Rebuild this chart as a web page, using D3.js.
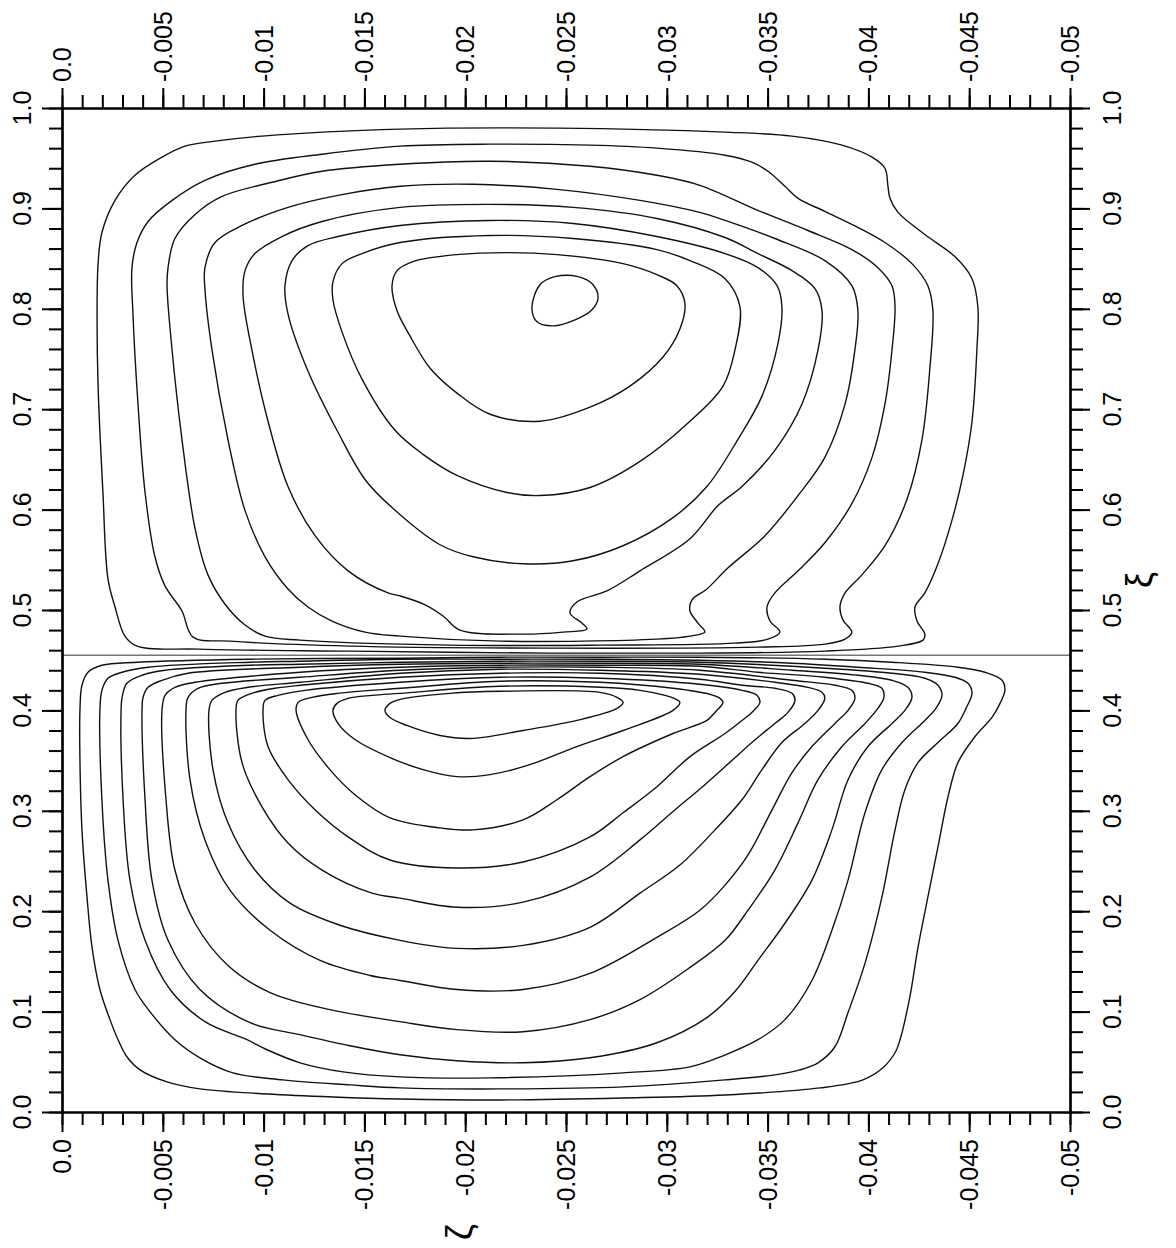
<!DOCTYPE html>
<html lang="en">
<head>
<meta charset="utf-8">
<title>Streamlines</title>
<script src="https://cdn.jsdelivr.net/npm/d3@7"></script>
<style>
  body { margin: 0; background: #fff; }
  svg { display: block; }
  text { font-family: "Liberation Sans", Arial, sans-serif; fill: #000; }
</style>
</head>
<body>
<svg id="chart" width="1176" height="1248"></svg>
<script>
// tick labels
const zetaMajor = [0, -0.005, -0.01, -0.015, -0.02, -0.025, -0.03, -0.035, -0.04, -0.045, -0.05];
const zetaLabels = ["0.0", "-0.005", "-0.01", "-0.015", "-0.02", "-0.025", "-0.03", "-0.035", "-0.04", "-0.045", "-0.05"];
const xiMajor = [0, 0.1, 0.2, 0.3, 0.4, 0.5, 0.6, 0.7, 0.8, 0.9, 1.0];
const xiLabels = ["0.0", "0.1", "0.2", "0.3", "0.4", "0.5", "0.6", "0.7", "0.8", "0.9", "1.0"];

// dividing line between the two cells
const dividerXi = 0.455;

// upper cell contours, [zeta, xi], outermost first
const upper1 = [[-3.72e-3,0.464],[-3.12e-3,0.474],[-2.63e-3,0.503],[-2.28e-3,0.531],[-2.03e-3,0.617],[-1.79e-3,0.723],[-1.74e-3,0.795],[-1.79e-3,0.845],[-1.98e-3,0.876],[-2.63e-3,0.908],[-3.62e-3,0.933],[-4.96e-3,0.951],[-6.10e-3,0.962],[-7.59e-3,0.967],[-9.92e-3,0.972],[-16.77e-3,0.979],[-24.55e-3,0.980],[-32.89e-3,0.976],[-36.21e-3,0.972],[-38.69e-3,0.963],[-40.18e-3,0.951],[-40.82e-3,0.940],[-40.97e-3,0.922],[-41.07e-3,0.910],[-41.47e-3,0.896],[-42.80e-3,0.874],[-44.29e-3,0.852],[-45.14e-3,0.830],[-45.43e-3,0.802],[-45.38e-3,0.759],[-45.14e-3,0.688],[-44.69e-3,0.634],[-44.14e-3,0.589],[-43.45e-3,0.546],[-42.80e-3,0.517],[-42.31e-3,0.503],[-42.41e-3,0.489],[-42.80e-3,0.476],[-42.71e-3,0.470],[-41.47e-3,0.464],[-37.84e-3,0.459],[-31.64e-3,0.457],[-24.20e-3,0.457],[-14.28e-3,0.459],[-6.84e-3,0.461]];
const upper2 = [[-6.50e-3,0.473],[-5.95e-3,0.499],[-5.11e-3,0.524],[-4.61e-3,0.553],[-4.12e-3,0.617],[-3.77e-3,0.705],[-3.52e-3,0.795],[-3.47e-3,0.841],[-3.72e-3,0.866],[-4.27e-3,0.887],[-5.46e-3,0.908],[-7.09e-3,0.928],[-9.57e-3,0.944],[-12.90e-3,0.954],[-16.77e-3,0.962],[-21.23e-3,0.964],[-26.19e-3,0.963],[-29.51e-3,0.960],[-32.89e-3,0.953],[-34.22e-3,0.946],[-35.02e-3,0.937],[-35.86e-3,0.922],[-36.51e-3,0.910],[-37.84e-3,0.897],[-39.48e-3,0.881],[-40.82e-3,0.866],[-42.16e-3,0.845],[-42.95e-3,0.823],[-43.20e-3,0.798],[-43.05e-3,0.741],[-42.66e-3,0.670],[-41.91e-3,0.610],[-40.82e-3,0.564],[-39.68e-3,0.535],[-38.84e-3,0.517],[-38.59e-3,0.503],[-38.74e-3,0.490],[-39.18e-3,0.478],[-38.84e-3,0.471],[-37.84e-3,0.466],[-34.52e-3,0.463],[-24.20e-3,0.462],[-14.28e-3,0.464],[-8.33e-3,0.469]];
const upper3 = [[-10.07e-3,0.474],[-9.08e-3,0.485],[-8.08e-3,0.506],[-7.24e-3,0.535],[-6.60e-3,0.581],[-5.95e-3,0.670],[-5.46e-3,0.759],[-5.21e-3,0.823],[-5.26e-3,0.841],[-5.60e-3,0.870],[-6.60e-3,0.894],[-7.94e-3,0.912],[-10.42e-3,0.926],[-12.90e-3,0.937],[-16.77e-3,0.944],[-21.23e-3,0.947],[-26.19e-3,0.942],[-29.51e-3,0.933],[-31.64e-3,0.923],[-34.52e-3,0.898],[-37.00e-3,0.878],[-39.18e-3,0.859],[-40.47e-3,0.841],[-41.17e-3,0.823],[-41.32e-3,0.802],[-41.17e-3,0.759],[-40.82e-3,0.705],[-40.18e-3,0.652],[-39.18e-3,0.606],[-37.84e-3,0.567],[-36.51e-3,0.539],[-35.36e-3,0.517],[-34.97e-3,0.503],[-35.12e-3,0.489],[-35.61e-3,0.478],[-35.02e-3,0.471],[-33.38e-3,0.467],[-26.69e-3,0.465],[-19.25e-3,0.465],[-11.81e-3,0.470]];
const upper4 = [[-16.77e-3,0.474],[-15.03e-3,0.478],[-13.39e-3,0.489],[-12.20e-3,0.503],[-11.21e-3,0.521],[-10.07e-3,0.553],[-9.08e-3,0.599],[-8.23e-3,0.670],[-7.44e-3,0.759],[-7.09e-3,0.820],[-7.09e-3,0.841],[-7.59e-3,0.866],[-8.93e-3,0.883],[-11.21e-3,0.901],[-13.69e-3,0.913],[-16.77e-3,0.922],[-20.39e-3,0.924],[-24.55e-3,0.919],[-28.67e-3,0.908],[-31.64e-3,0.896],[-32.89e-3,0.888],[-35.36e-3,0.870],[-37.84e-3,0.848],[-39.18e-3,0.823],[-39.48e-3,0.798],[-39.33e-3,0.759],[-38.84e-3,0.705],[-37.84e-3,0.652],[-36.51e-3,0.614],[-34.87e-3,0.574],[-33.04e-3,0.542],[-31.99e-3,0.521],[-31.25e-3,0.510],[-31.15e-3,0.499],[-31.55e-3,0.487],[-31.89e-3,0.478],[-31.15e-3,0.474],[-29.51e-3,0.471],[-21.73e-3,0.469]];
const upper5 = [[-16.77e-3,0.514],[-16.17e-3,0.517],[-14.19e-3,0.539],[-12.55e-3,0.574],[-11.21e-3,0.623],[-10.22e-3,0.688],[-9.42e-3,0.759],[-8.98e-3,0.813],[-9.08e-3,0.838],[-9.57e-3,0.855],[-10.91e-3,0.872],[-12.90e-3,0.887],[-16.77e-3,0.901],[-21.23e-3,0.904],[-25.35e-3,0.901],[-29.51e-3,0.890],[-32.89e-3,0.871],[-34.52e-3,0.855],[-36.21e-3,0.838],[-37.35e-3,0.820],[-37.70e-3,0.798],[-37.50e-3,0.759],[-36.70e-3,0.705],[-35.36e-3,0.659],[-33.73e-3,0.623],[-32.54e-3,0.604],[-31.15e-3,0.571],[-28.67e-3,0.539],[-27.03e-3,0.519],[-25.54e-3,0.508],[-25.20e-3,0.497],[-25.79e-3,0.487],[-26.04e-3,0.481],[-24.85e-3,0.478],[-22.87e-3,0.476],[-19.74e-3,0.480],[-18.90e-3,0.494],[-17.91e-3,0.506]];
const upper6 = [[-16.37e-3,0.602],[-15.03e-3,0.630],[-13.69e-3,0.677],[-12.20e-3,0.738],[-11.21e-3,0.795],[-11.06e-3,0.823],[-11.41e-3,0.848],[-12.20e-3,0.863],[-13.69e-3,0.872],[-16.77e-3,0.883],[-21.23e-3,0.888],[-25.35e-3,0.885],[-29.51e-3,0.872],[-32.89e-3,0.855],[-34.52e-3,0.841],[-35.47e-3,0.823],[-35.71e-3,0.802],[-35.52e-3,0.766],[-34.72e-3,0.713],[-33.53e-3,0.670],[-31.99e-3,0.623],[-30.31e-3,0.592],[-27.83e-3,0.564],[-25.35e-3,0.549],[-22.87e-3,0.546],[-20.39e-3,0.553],[-18.75e-3,0.565]];
const upper7 = [[-16.52e-3,0.679],[-14.88e-3,0.730],[-13.89e-3,0.777],[-13.44e-3,0.809],[-13.44e-3,0.827],[-13.89e-3,0.845],[-14.88e-3,0.855],[-16.77e-3,0.866],[-21.23e-3,0.873],[-25.35e-3,0.870],[-29.51e-3,0.859],[-31.15e-3,0.848],[-32.89e-3,0.830],[-33.63e-3,0.802],[-33.38e-3,0.759],[-32.79e-3,0.723],[-31.15e-3,0.688],[-28.67e-3,0.648],[-26.19e-3,0.622],[-23.71e-3,0.614],[-22.07e-3,0.617],[-19.59e-3,0.634],[-17.91e-3,0.655]];
const upper8 = [[-16.37e-3,0.823],[-16.62e-3,0.838],[-17.41e-3,0.847],[-19.59e-3,0.854],[-22.07e-3,0.856],[-24.55e-3,0.854],[-27.83e-3,0.845],[-29.51e-3,0.834],[-30.50e-3,0.823],[-30.90e-3,0.805],[-30.65e-3,0.780],[-29.81e-3,0.752],[-28.17e-3,0.723],[-26.19e-3,0.702],[-23.71e-3,0.688],[-21.23e-3,0.695],[-19.59e-3,0.716],[-18.25e-3,0.741],[-17.26e-3,0.773],[-16.62e-3,0.798]];
const upper9 = [[-23.71e-3,0.824],[-24.45e-3,0.832],[-25.60e-3,0.832],[-26.34e-3,0.824],[-26.59e-3,0.811],[-26.29e-3,0.799],[-25.45e-3,0.789],[-24.36e-3,0.783],[-23.56e-3,0.787],[-23.31e-3,0.801]];

// lower cell contours, [zeta, xi], outermost first
const lower1 = [[-0.89e-3,0.351],[-0.89e-3,0.400],[-0.99e-3,0.425],[-1.29e-3,0.438],[-1.98e-3,0.445],[-3.77e-3,0.448],[-9.33e-3,0.451],[-16.77e-3,0.452],[-21.73e-3,0.453],[-26.69e-3,0.453],[-31.64e-3,0.453],[-37.84e-3,0.451],[-41.17e-3,0.448],[-44.44e-3,0.443],[-45.78e-3,0.438],[-46.63e-3,0.430],[-46.77e-3,0.420],[-46.53e-3,0.407],[-46.13e-3,0.393],[-45.29e-3,0.374],[-44.44e-3,0.348],[-43.95e-3,0.314],[-43.45e-3,0.264],[-42.95e-3,0.214],[-42.46e-3,0.164],[-42.06e-3,0.115],[-41.57e-3,0.072],[-41.32e-3,0.059],[-40.72e-3,0.044],[-39.73e-3,0.032],[-37.60e-3,0.024],[-32.89e-3,0.017],[-27.83e-3,0.014],[-21.73e-3,0.012],[-16.77e-3,0.013],[-13.44e-3,0.015],[-10.17e-3,0.018],[-6.84e-3,0.023],[-5.21e-3,0.030],[-3.87e-3,0.042],[-3.22e-3,0.055],[-2.78e-3,0.072],[-2.38e-3,0.092],[-1.88e-3,0.122],[-1.49e-3,0.164],[-1.24e-3,0.214],[-0.99e-3,0.281]];
const lower2 = [[-1.88e-3,0.400],[-1.98e-3,0.420],[-2.28e-3,0.432],[-2.98e-3,0.438],[-4.27e-3,0.443],[-9.33e-3,0.448],[-11.81e-3,0.449],[-16.77e-3,0.451],[-21.73e-3,0.451],[-26.69e-3,0.451],[-31.64e-3,0.450],[-36.21e-3,0.447],[-39.48e-3,0.443],[-42.80e-3,0.438],[-44.29e-3,0.433],[-44.94e-3,0.427],[-45.14e-3,0.417],[-44.84e-3,0.402],[-44.44e-3,0.387],[-43.45e-3,0.368],[-42.46e-3,0.348],[-41.81e-3,0.321],[-41.32e-3,0.281],[-40.67e-3,0.214],[-39.83e-3,0.148],[-38.99e-3,0.099],[-38.34e-3,0.065],[-37.50e-3,0.049],[-36.61e-3,0.042],[-35.36e-3,0.037],[-32.89e-3,0.032],[-27.83e-3,0.025],[-21.73e-3,0.023],[-16.77e-3,0.024],[-14.28e-3,0.027],[-10.96e-3,0.032],[-8.48e-3,0.039],[-6.84e-3,0.054],[-5.60e-3,0.072],[-4.36e-3,0.100],[-3.62e-3,0.122],[-2.78e-3,0.171],[-2.28e-3,0.231],[-1.98e-3,0.311]];
const lower3 = [[-2.93e-3,0.400],[-2.98e-3,0.413],[-3.22e-3,0.427],[-3.97e-3,0.435],[-5.11e-3,0.440],[-9.33e-3,0.445],[-11.81e-3,0.446],[-16.77e-3,0.448],[-21.73e-3,0.449],[-26.69e-3,0.449],[-31.64e-3,0.448],[-37.84e-3,0.442],[-41.17e-3,0.437],[-42.80e-3,0.432],[-43.45e-3,0.425],[-43.65e-3,0.415],[-43.35e-3,0.402],[-42.80e-3,0.390],[-41.67e-3,0.368],[-40.67e-3,0.341],[-39.83e-3,0.298],[-38.99e-3,0.231],[-38.19e-3,0.181],[-37.20e-3,0.131],[-35.86e-3,0.092],[-34.52e-3,0.072],[-32.79e-3,0.056],[-31.15e-3,0.045],[-27.83e-3,0.039],[-21.23e-3,0.034],[-16.77e-3,0.035],[-13.94e-3,0.040],[-11.81e-3,0.049],[-10.17e-3,0.062],[-9.18e-3,0.072],[-7.09e-3,0.090],[-5.36e-3,0.122],[-4.12e-3,0.171],[-3.37e-3,0.231],[-3.03e-3,0.311]];
const lower4 = [[-3.97e-3,0.400],[-4.02e-3,0.413],[-4.27e-3,0.423],[-4.96e-3,0.430],[-6.25e-3,0.437],[-11.81e-3,0.443],[-16.77e-3,0.446],[-21.73e-3,0.447],[-26.69e-3,0.447],[-31.64e-3,0.446],[-36.21e-3,0.440],[-39.48e-3,0.435],[-41.17e-3,0.430],[-41.96e-3,0.423],[-42.16e-3,0.413],[-41.81e-3,0.400],[-41.17e-3,0.387],[-39.98e-3,0.364],[-38.99e-3,0.331],[-38.19e-3,0.281],[-37.20e-3,0.231],[-35.86e-3,0.188],[-34.52e-3,0.151],[-33.38e-3,0.120],[-31.99e-3,0.094],[-29.51e-3,0.069],[-26.19e-3,0.054],[-22.87e-3,0.049],[-19.59e-3,0.051],[-16.77e-3,0.057],[-14.28e-3,0.066],[-11.81e-3,0.077],[-9.33e-3,0.089],[-6.84e-3,0.122],[-5.26e-3,0.171],[-4.46e-3,0.231],[-4.12e-3,0.311]];
const lower5 = [[-4.96e-3,0.400],[-5.11e-3,0.415],[-5.60e-3,0.423],[-6.60e-3,0.428],[-11.81e-3,0.438],[-16.77e-3,0.443],[-21.73e-3,0.445],[-26.69e-3,0.445],[-31.64e-3,0.444],[-34.52e-3,0.438],[-37.84e-3,0.433],[-39.98e-3,0.427],[-40.67e-3,0.422],[-40.77e-3,0.413],[-40.47e-3,0.402],[-39.83e-3,0.387],[-38.69e-3,0.364],[-37.50e-3,0.331],[-36.51e-3,0.288],[-35.36e-3,0.241],[-34.03e-3,0.201],[-32.89e-3,0.171],[-31.15e-3,0.144],[-28.67e-3,0.112],[-26.19e-3,0.092],[-22.87e-3,0.080],[-19.59e-3,0.082],[-16.77e-3,0.090],[-13.29e-3,0.102],[-10.32e-3,0.119],[-8.23e-3,0.146],[-6.60e-3,0.188],[-5.60e-3,0.241],[-5.16e-3,0.311]];
const lower6 = [[-6.15e-3,0.400],[-6.25e-3,0.413],[-6.75e-3,0.422],[-7.94e-3,0.427],[-11.81e-3,0.433],[-16.77e-3,0.440],[-21.73e-3,0.443],[-26.69e-3,0.443],[-31.64e-3,0.440],[-36.21e-3,0.430],[-38.34e-3,0.425],[-39.18e-3,0.420],[-39.33e-3,0.412],[-38.99e-3,0.400],[-38.34e-3,0.387],[-37.20e-3,0.364],[-36.21e-3,0.338],[-35.22e-3,0.301],[-34.03e-3,0.256],[-32.89e-3,0.226],[-31.64e-3,0.201],[-29.51e-3,0.174],[-26.19e-3,0.138],[-22.87e-3,0.122],[-19.59e-3,0.122],[-16.77e-3,0.131],[-15.28e-3,0.136],[-12.80e-3,0.151],[-10.32e-3,0.181],[-8.33e-3,0.221],[-7.09e-3,0.271],[-6.35e-3,0.331]];
const lower7 = [[-7.29e-3,0.400],[-7.44e-3,0.410],[-8.08e-3,0.418],[-9.23e-3,0.423],[-11.81e-3,0.428],[-16.77e-3,0.437],[-21.73e-3,0.441],[-26.69e-3,0.440],[-31.64e-3,0.436],[-35.36e-3,0.428],[-37.00e-3,0.423],[-37.70e-3,0.418],[-37.84e-3,0.412],[-37.50e-3,0.400],[-36.85e-3,0.387],[-35.71e-3,0.368],[-34.72e-3,0.341],[-33.73e-3,0.311],[-32.39e-3,0.281],[-30.65e-3,0.246],[-28.67e-3,0.218],[-26.19e-3,0.184],[-22.87e-3,0.166],[-19.59e-3,0.163],[-16.77e-3,0.171],[-13.79e-3,0.186],[-11.31e-3,0.208],[-9.57e-3,0.241],[-8.23e-3,0.288],[-7.49e-3,0.341]];
const lower8 = [[-8.63e-3,0.400],[-8.73e-3,0.410],[-9.42e-3,0.417],[-10.56e-3,0.422],[-11.81e-3,0.425],[-16.77e-3,0.433],[-21.73e-3,0.437],[-26.69e-3,0.437],[-31.64e-3,0.431],[-33.73e-3,0.425],[-35.36e-3,0.422],[-36.21e-3,0.417],[-36.36e-3,0.410],[-36.01e-3,0.398],[-35.36e-3,0.387],[-34.22e-3,0.368],[-33.28e-3,0.351],[-31.89e-3,0.326],[-30.41e-3,0.301],[-28.67e-3,0.271],[-26.19e-3,0.234],[-22.87e-3,0.209],[-19.59e-3,0.204],[-16.77e-3,0.213],[-15.38e-3,0.218],[-12.90e-3,0.241],[-11.21e-3,0.268],[-9.92e-3,0.304],[-8.93e-3,0.348]];
const lower9 = [[-9.97e-3,0.400],[-10.07e-3,0.410],[-10.71e-3,0.415],[-12.05e-3,0.420],[-16.77e-3,0.428],[-21.73e-3,0.433],[-26.69e-3,0.432],[-31.64e-3,0.426],[-33.73e-3,0.420],[-34.47e-3,0.415],[-34.62e-3,0.408],[-34.22e-3,0.398],[-33.73e-3,0.390],[-32.89e-3,0.377],[-31.15e-3,0.354],[-29.51e-3,0.324],[-27.83e-3,0.298],[-26.19e-3,0.274],[-22.87e-3,0.249],[-19.59e-3,0.243],[-16.27e-3,0.251],[-14.19e-3,0.274],[-12.55e-3,0.301],[-11.21e-3,0.331],[-10.22e-3,0.364]];
const lower10 = [[-11.61e-3,0.400],[-11.71e-3,0.408],[-12.40e-3,0.413],[-13.69e-3,0.417],[-16.77e-3,0.422],[-21.73e-3,0.429],[-26.69e-3,0.428],[-30.31e-3,0.422],[-32.14e-3,0.416],[-32.64e-3,0.412],[-32.79e-3,0.408],[-32.39e-3,0.398],[-31.99e-3,0.390],[-30.31e-3,0.377],[-27.83e-3,0.354],[-26.19e-3,0.334],[-24.55e-3,0.311],[-22.87e-3,0.291],[-20.39e-3,0.281],[-18.75e-3,0.283],[-16.27e-3,0.293],[-14.53e-3,0.316],[-13.29e-3,0.341],[-12.20e-3,0.371]];
const lower11 = [[-13.44e-3,0.400],[-13.64e-3,0.407],[-14.19e-3,0.412],[-15.38e-3,0.415],[-16.77e-3,0.417],[-21.73e-3,0.424],[-26.69e-3,0.423],[-28.67e-3,0.420],[-29.91e-3,0.415],[-30.46e-3,0.411],[-30.65e-3,0.408],[-30.31e-3,0.400],[-27.83e-3,0.380],[-25.54e-3,0.364],[-23.21e-3,0.346],[-21.23e-3,0.336],[-19.59e-3,0.334],[-17.91e-3,0.341],[-16.27e-3,0.353],[-14.53e-3,0.371],[-13.69e-3,0.387]];
const lower12 = [[-16.02e-3,0.400],[-16.27e-3,0.407],[-16.77e-3,0.411],[-19.25e-3,0.417],[-21.73e-3,0.419],[-26.69e-3,0.418],[-27.53e-3,0.413],[-27.83e-3,0.408],[-27.53e-3,0.402],[-25.54e-3,0.390],[-22.87e-3,0.380],[-20.24e-3,0.372],[-18.75e-3,0.375],[-17.11e-3,0.385],[-16.27e-3,0.393]];

const contours = [upper1, upper2, upper3, upper4, upper5, upper6, upper7, upper8, upper9,
  lower1, lower2, lower3, lower4, lower5, lower6, lower7, lower8, lower9, lower10, lower11, lower12];

// layout
const plotLeft = 62, plotRight = 1070, plotTop = 108, plotBottom = 1112;

const svg = d3.select("#chart");

const x = d3.scaleLinear().domain([0, -0.05]).range([plotLeft, plotRight]);
const y = d3.scaleLinear().domain([0, 1]).range([plotBottom, plotTop]);

const zetaMinor = d3.range(0, 51).map(i => -i * 0.001);
const xiMinor = d3.range(0, 51).map(i => i * 0.02);

// contours
const line = d3.line()
  .x(d => x(d[0]))
  .y(d => y(d[1]))
  .curve(d3.curveCatmullRomClosed.alpha(0.5));

svg.append("g")
  .selectAll("path")
  .data(contours)
  .join("path")
  .attr("d", line)
  .attr("fill", "none")
  .attr("stroke", "#111")
  .attr("stroke-width", 1.4)
  .attr("stroke-linejoin", "round");

// divider
svg.append("line")
  .attr("x1", x(0)).attr("x2", x(-0.05))
  .attr("y1", y(dividerXi)).attr("y2", y(dividerXi))
  .attr("stroke", "#333")
  .attr("stroke-width", 1);

// axes: minor + major ticks on all four sides
function drawAxis(axisFn, scale, minor, major, transform) {
  const gMinor = svg.append("g").attr("transform", transform)
    .call(axisFn(scale).tickValues(minor).tickSize(13).tickSizeOuter(0).tickFormat(""));
  const gMajor = svg.append("g").attr("transform", transform)
    .call(axisFn(scale).tickValues(major).tickSize(20).tickSizeOuter(0).tickFormat(""));
  [gMinor, gMajor].forEach(g => {
    g.selectAll("line").attr("stroke", "#000").attr("stroke-width", 2);
    g.select(".domain").attr("stroke", "#000").attr("stroke-width", 2.2).attr("stroke-linecap", "square");
  });
}

drawAxis(d3.axisTop, x, zetaMinor, zetaMajor, `translate(0,${plotTop})`);
drawAxis(d3.axisBottom, x, zetaMinor, zetaMajor, `translate(0,${plotBottom})`);
drawAxis(d3.axisLeft, y, xiMinor, xiMajor, `translate(${plotLeft},0)`);
drawAxis(d3.axisRight, y, xiMinor, xiMajor, `translate(${plotRight},0)`);

// tick labels, rotated like the printed figure
const fs = 25;
svg.append("g").selectAll("text")
  .data(zetaMajor)
  .join("text")
  .attr("transform", (d) => `translate(${x(d) + 9},${plotTop - 26}) rotate(-90)`)
  .attr("text-anchor", "start")
  .attr("font-size", fs)
  .text((d, i) => zetaLabels[i]);

svg.append("g").selectAll("text")
  .data(zetaMajor)
  .join("text")
  .attr("transform", (d) => `translate(${x(d) + 9},${plotBottom + 27}) rotate(-90)`)
  .attr("text-anchor", "end")
  .attr("font-size", fs)
  .text((d, i) => zetaLabels[i]);

svg.append("g").selectAll("text")
  .data(xiMajor)
  .join("text")
  .attr("transform", (d) => `translate(${plotLeft - 31},${y(d)}) rotate(-90)`)
  .attr("text-anchor", "middle")
  .attr("font-size", fs)
  .text((d, i) => xiLabels[i]);

svg.append("g").selectAll("text")
  .data(xiMajor)
  .join("text")
  .attr("transform", (d) => `translate(${plotRight + 51},${y(d)}) rotate(-90)`)
  .attr("text-anchor", "middle")
  .attr("font-size", fs)
  .text((d, i) => xiLabels[i]);

// axis titles
svg.append("text")
  .attr("transform", `translate(${x(-0.02) + 7},1232) rotate(-90)`)
  .attr("text-anchor", "middle")
  .attr("font-family", "Liberation Serif")
  .attr("font-size", 36)
  .text("ζ");

svg.append("text")
  .attr("transform", `translate(1152,${y(0.53)}) rotate(-90)`)
  .attr("text-anchor", "middle")
  .attr("font-family", "Liberation Serif")
  .attr("font-size", 36)
  .text("ξ");
</script>
</body>
</html>
